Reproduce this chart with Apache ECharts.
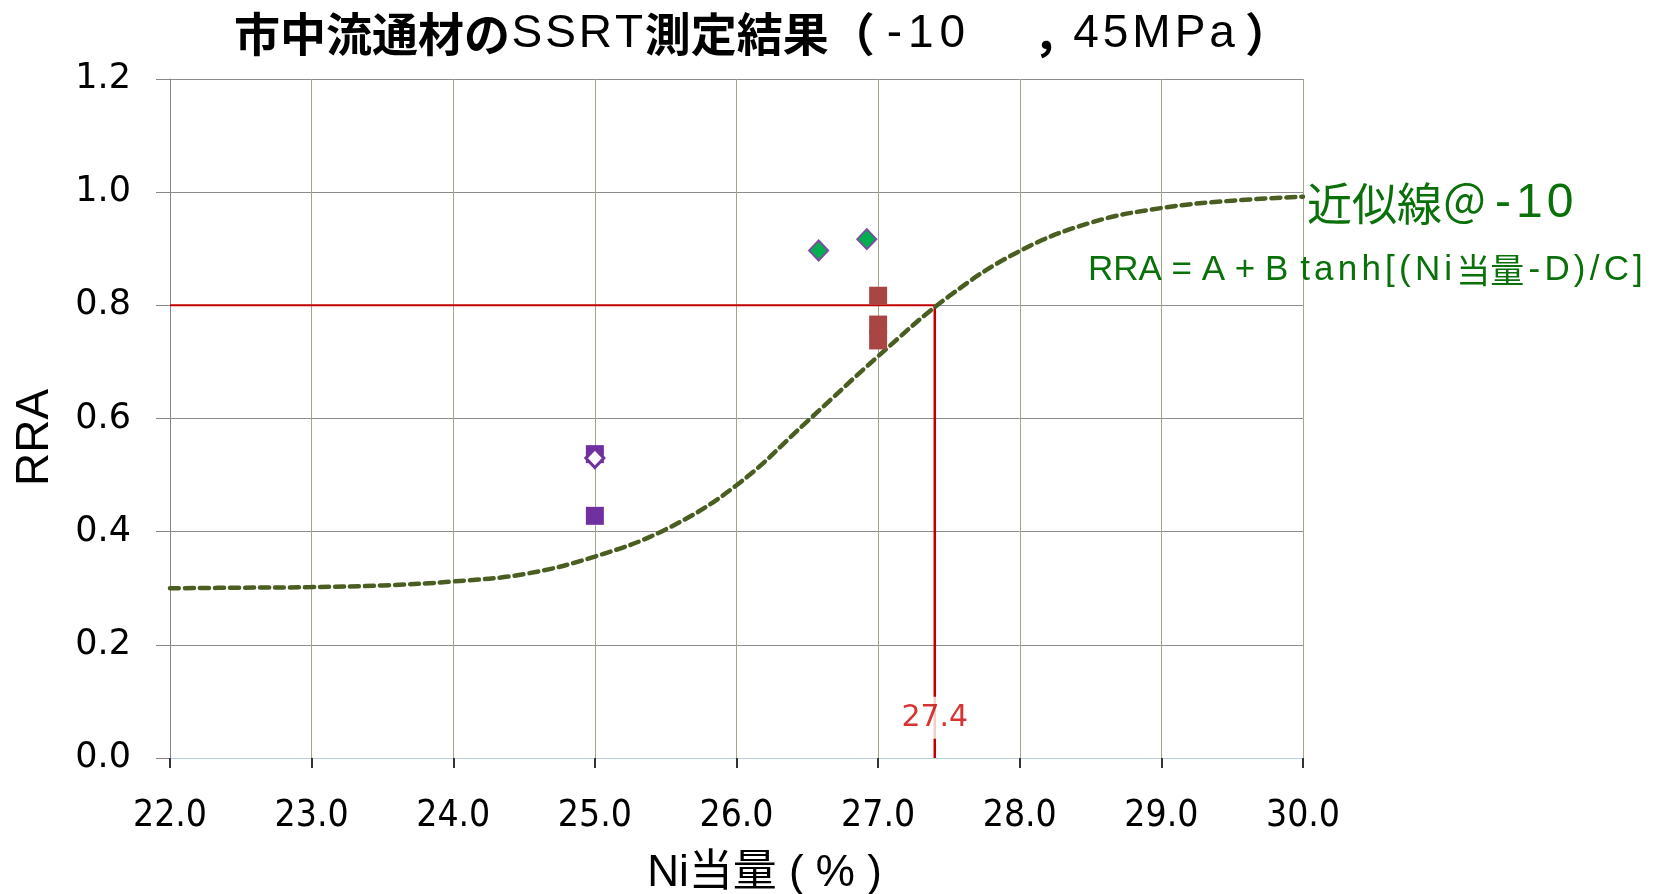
<!DOCTYPE html>
<html><head><meta charset="utf-8">
<script src="https://cdn.jsdelivr.net/npm/echarts@6/dist/echarts.min.js"></script>
<style>html,body{margin:0;padding:0;background:#fff}#c{width:1665px;height:894px}</style>
</head><body><div id="c"></div>
<script>
// ---- data ----
const xTickLabels = ['22.0','23.0','24.0','25.0','26.0','27.0','28.0','29.0','30.0'];
const yTickLabels = ['0.0','0.2','0.4','0.6','0.8','1.0','1.2'];
// fitted curve
const fitNi  = [22.0, 22.5, 23.0, 23.5, 24.0, 24.5, 25.0, 25.5, 26.0, 26.5, 27.0, 27.5, 28.0, 28.5, 29.0, 29.5, 30.0];
const fitRRA = [0.300,0.301,0.302,0.305,0.312,0.325,0.356,0.404,0.482,0.595,0.710,0.816,0.896,0.946,0.972,0.985,0.992];
// measured points
const purpleSqNi  = [25.0, 25.0];
const purpleSqRRA = [0.537, 0.428];
const hollowNi  = [25.0];
const hollowRRA = [0.530];
const greenNi  = [26.58, 26.92];
const greenRRA = [0.897, 0.917];
const redNi  = [27.0, 27.0, 27.0];
const redRRA = [0.817, 0.766, 0.738];
// threshold
const thresholdRRA = 0.8;
const thresholdNi  = 27.4;
const thresholdLabel = '27.4';

const zip = (a, b) => a.map((v, i) => [v, b[i]]);
const xMin = parseFloat(xTickLabels[0]), xMax = parseFloat(xTickLabels[xTickLabels.length-1]);
const yMin = parseFloat(yTickLabels[0]), yMax = parseFloat(yTickLabels[yTickLabels.length-1]);
const each = (s, st) => Array.from(s).map(c => '{' + st + '|' + c + '}').join('');

const chart = echarts.init(document.getElementById('c'), null, {renderer: 'canvas'});
const LAT = 'Liberation Sans, Arial, sans-serif';
const CJK = 'Noto Sans CJK JP';

const titleText =
  '{b|市中流通材の}' + each('SSRT', 'L') + '{b|測定結果}{b|（}' +
  '{h|-}' + each('10', 'L2') + '{c|，}' + each('45MPa', 'L3') + '{p|）}';

const fitLabelText = '{g|近似線＠}{m|-}{d1|1}{d2|0}';
const formulaText = '{f|RRA = A + B }' + each('tanh[(Ni', 'fs') + '{fc|当量}' + each('-D)/C]', 'fs');

const N = 'normal';
chart.setOption({
  animation: false,
  backgroundColor: '#ffffff',
  title: {
    left: 229, top: 6,
    text: titleText,
    textStyle: {
      fontWeight: N,
      rich: {
        b:  {fontFamily: CJK, fontWeight: 'bold', fontSize: 46, color: '#000'},
        L:  {fontFamily: LAT, fontWeight: N, fontSize: 46, color: '#000', padding: [0, 1.5]},
        h:  {fontFamily: LAT, fontWeight: N, fontSize: 46, color: '#000', padding: [0, 3, 0, 12]},
        L2: {fontFamily: LAT, fontWeight: N, fontSize: 46, color: '#000', padding: [0, 3]},
        c:  {fontFamily: CJK, fontWeight: 'bold', fontSize: 46, color: '#000', width: 38, padding: [0, 0, 0, 65]},
        L3: {fontFamily: LAT, fontWeight: N, fontSize: 46, color: '#000', padding: [0, 2]},
        p:  {fontFamily: CJK, fontWeight: 'bold', fontSize: 46, color: '#000', padding: [0, 0, 0, 8]}
      }
    }
  },
  grid: {left: 170, right: 362, top: 79, bottom: 136, containLabel: false, outerBoundsMode: 'none'},
  xAxis: {
    type: 'value', min: xMin, max: xMax, interval: 1,
    name: 'Ni当量 ( % )', nameLocation: 'middle', nameGap: 94,
    nameTextStyle: {fontFamily: LAT + ',' + CJK, fontSize: 44, color: '#000', padding: [0, 0, 0, 56]},
    axisLine: {show: true, onZero: false, lineStyle: {color: '#b9cde5', width: 1}},
    axisTick: {show: true, inside: false, length: 10, lineStyle: {color: '#333', width: 2}},
    axisLabel: {
      margin: 40, fontFamily: 'DejaVu Sans Condensed', fontSize: 37, color: '#000',
      formatter: v => xTickLabels[Math.round(v - xMin)]
    },
    splitLine: {show: true, lineStyle: {color: '#a3a68c', width: 1}}
  },
  yAxis: {
    type: 'value', min: yMin, max: yMax, interval: 0.2,
    name: 'RRA', nameLocation: 'middle', nameGap: 112, nameRotate: 90,
    nameTextStyle: {fontFamily: LAT, fontSize: 46, color: '#000', padding: [0, 38, 0, 0]},
    axisLine: {show: true, lineStyle: {color: '#868686', width: 1}},
    axisTick: {show: true, inside: false, length: 14, lineStyle: {color: '#868686', width: 1}},
    axisLabel: {
      margin: 39, fontFamily: 'DejaVu Sans', fontSize: 35, color: '#000',
      formatter: v => yTickLabels[Math.round((v - yMin) / 0.2)]
    },
    splitLine: {show: true, lineStyle: {color: '#8c8c8c', width: 1}}
  },
  series: [
    {
      name: 'fit', type: 'line', data: zip(fitNi, fitRRA), smooth: 0.4,
      symbol: 'none', z: 3,
      lineStyle: {color: '#4a5e22', width: 4.5, type: [9, 6], cap: 'round'}
    },
    {
      name: 'thH', type: 'line', symbol: 'none', z: 2,
      data: [[xMin, thresholdRRA], [thresholdNi, thresholdRRA]],
      lineStyle: {color: '#c00000', width: 2}
    },
    {
      name: 'thV', type: 'line', symbol: 'none', z: 2,
      data: [[thresholdNi, thresholdRRA], [thresholdNi, yMin]],
      lineStyle: {color: '#c00000', width: 2.5}
    },
    {
      name: 'thLabel', type: 'scatter', z: 4, symbolSize: 1,
      itemStyle: {color: 'rgba(0,0,0,0)'},
      data: [[thresholdNi, 0.071]],
      label: {
        show: true, position: 'inside', formatter: thresholdLabel,
        fontFamily: 'DejaVu Sans', fontSize: 30, color: '#cc0000',
        backgroundColor: '#ffffff', padding: [6, 2]
      }
    },
    {
      name: 'purpleSq', type: 'scatter', symbol: 'rect', symbolSize: 18, z: 5,
      data: zip(purpleSqNi, purpleSqRRA),
      itemStyle: {color: '#7030a0', opacity: 1}
    },
    {
      name: 'hollow', type: 'scatter', symbol: 'diamond', symbolSize: [18, 19], z: 6,
      data: zip(hollowNi, hollowRRA),
      itemStyle: {color: '#ffffff', borderColor: '#7030a0', borderWidth: 3, opacity: 1}
    },
    {
      name: 'green', type: 'scatter', symbol: 'diamond', symbolSize: [19, 20], z: 5,
      data: zip(greenNi, greenRRA),
      itemStyle: {color: '#00b050', borderColor: '#7b4fa0', borderWidth: 2, opacity: 1}
    },
    {
      name: 'red', type: 'scatter', symbol: 'rect', symbolSize: 18, z: 5,
      data: zip(redNi, redRRA),
      itemStyle: {color: '#a94644', opacity: 1}
    }
  ],
  graphic: [
    {
      type: 'text', x: 1307, y: 204, z: 10,
      style: {
        text: fitLabelText, verticalAlign: 'middle', fill: '#0a700a',
        rich: {
          g:  {fontFamily: CJK, fontSize: 45, fill: '#0a700a'},
          m:  {fontFamily: LAT, fontSize: 48, fill: '#0a700a', padding: [0, 0, 0, 8]},
          d1: {fontFamily: LAT, fontSize: 48, fill: '#0a700a', padding: [0, 0, 0, 5]},
          d2: {fontFamily: LAT, fontSize: 48, fill: '#0a700a', padding: [0, 0, 0, 4]}
        }
      }
    },
    {
      type: 'text', x: 1088, y: 270, z: 10,
      style: {
        text: formulaText, verticalAlign: 'middle', fill: '#0a700a',
        rich: {
          f:  {fontFamily: LAT, fontSize: 35, fill: '#0a700a'},
          fs: {fontFamily: LAT, fontSize: 35, fill: '#0a700a', padding: [0, 2.1]},
          fc: {fontFamily: CJK, fontSize: 34, fill: '#0a700a', padding: [0, 2.1]}
        }
      }
    }
  ]
});
</script>
</body></html>
